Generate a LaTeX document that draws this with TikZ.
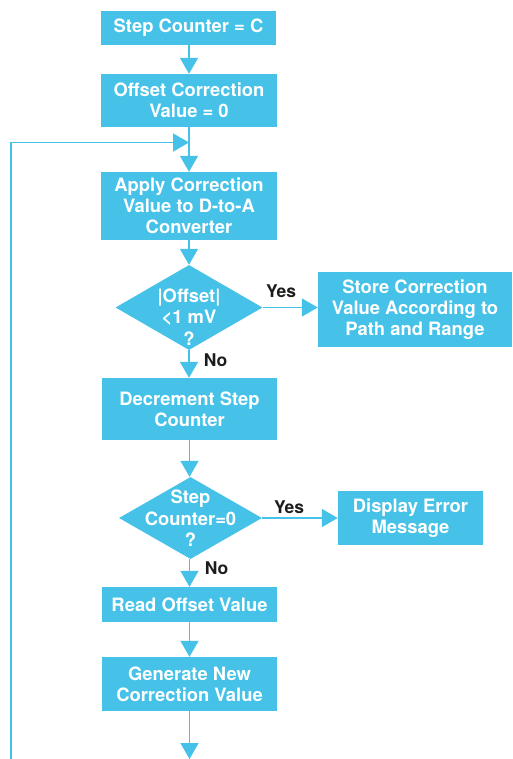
\documentclass[tikz,border=0pt]{standalone}
\usepackage{fontspec}
\setmainfont{TeX Gyre Heros}
\usetikzlibrary{arrows.meta,shapes.geometric}
\definecolor{fc}{RGB}{70,194,232}
\definecolor{lbl}{RGB}{28,28,30}
\tikzset{
  box/.style={fill=fc, draw=none, text=white, align=center, inner sep=0pt,
    font=\fontsize{18.4}{21}\selectfont\bfseries},
  dia/.style={shape=diamond, fill=fc, draw=none, inner sep=0pt},
  diatext/.style={text=white, align=center, inner sep=0pt,
    font=\fontsize{18.4}{21.5}\selectfont\bfseries},
  lab/.style={text=lbl, inner sep=0pt, font=\fontsize{17.5}{20}\selectfont\bfseries},
  conn/.style={draw=fc, line width=1.6pt, -{Triangle[length=16pt,width=18pt]}},
  plain/.style={draw=fc, line width=1.6pt}
}
\begin{document}
\begin{tikzpicture}[x=1pt,y=-1pt]
\useasboundingbox (0,0) rectangle (512,759);
% boxes
\node[box, minimum width=175pt, minimum height=34pt] (b1) at (188.5,28) {Step Counter = C};
\node[box, minimum width=176pt, minimum height=53pt] (b2) at (189,100.5) {Offset Correction\\Value = 0};
\node[box, minimum width=176pt, minimum height=68pt] (b3) at (189,206) {Apply Correction\\Value to D-to-A\\Converter};
\node[dia, minimum width=147pt, minimum height=85pt] (d1) at (189,307.5) {};
\node[diatext] (d1t) at (189,317) {|Offset|\\<1 mV\\?};
\node[box, minimum width=194pt, minimum height=75pt] (b4) at (415,309.5) {Store Correction\\Value According to\\Path and Range};
\node[box, minimum width=175pt, minimum height=62pt] (b5) at (189.5,409) {Decrement Step\\Counter};
\node[dia, minimum width=143pt, minimum height=82pt] (d2) at (190.5,518) {};
\node[diatext] (d2t) at (190.5,518.5) {Step\\Counter=0\\?};
\node[box, minimum width=145pt, minimum height=54pt] (b6) at (410.5,518) {Display Error\\Message};
\node[box, minimum width=175pt, minimum height=35pt] (b7) at (189.5,604.5) {Read Offset Value};
\node[box, minimum width=175pt, minimum height=54pt] (b8) at (189.5,684) {Generate New\\Correction Value};
% labels
\node[lab] (y1) at (281,291) {Yes};
\node[lab] (n1) at (215.5,360.5) {No};
\node[lab] (y2) at (289,507) {Yes};
\node[lab] (n2) at (216.5,568) {No};
% coordinates
\coordinate (join) at (189,142.5);
\coordinate (lt) at (11,142.5);
\coordinate (lb) at (11,759);
\coordinate (bot) at (189,759);
% connectors
\draw[conn] (b1.south -| 189,0) -- (b2.north -| 189,0);
\draw[conn] (b2.south -| 189,0) -- (b3.north -| 189,0);
\draw[conn] (lb) -- (lt) -- (join);
\draw[conn] (b3.south -| 189,0) -- (d1.north);
\draw[conn] (d1.east) -- (d1.east -| b4.west);
\draw[conn] (d1.south) -- (b5.north -| d1.south);
\draw[conn] (b5.south -| 189.5,0) -- (d2.north -| 189.5,0);
\draw[conn] (d2.east) -- (d2.east -| b6.west);
\draw[conn] (d2.south -| 189.5,0) -- (b7.north -| 189.5,0);
\draw[conn] (b7.south -| 189.5,0) -- (b8.north -| 189.5,0);
\draw[conn] (b8.south -| 189.5,0) -- (bot -| 189.5,0);
\end{tikzpicture}
\end{document}
